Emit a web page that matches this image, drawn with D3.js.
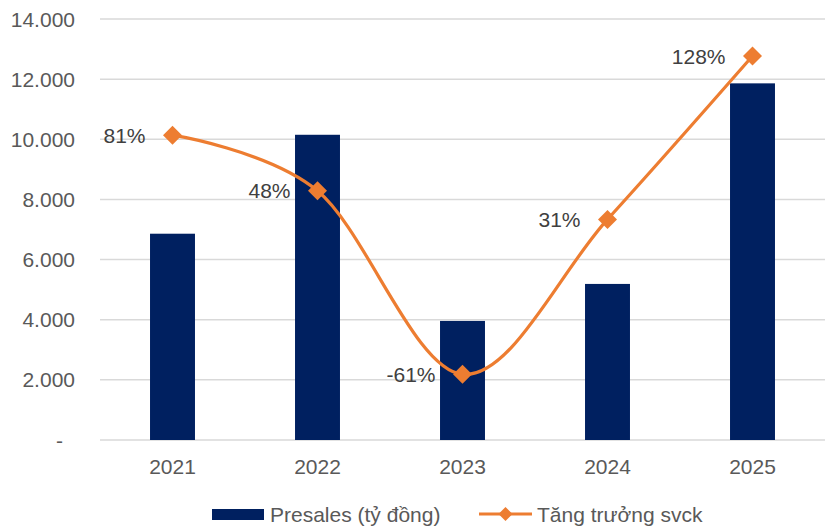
<!DOCTYPE html>
<html><head><meta charset="utf-8">
<script src="https://cdn.jsdelivr.net/npm/d3@7"></script>
<style>body{margin:0;background:#fff}svg{display:block;font-family:"Liberation Sans",Arial,sans-serif}</style>
</head><body><svg id="c" width="825" height="528"></svg>
<script>
const years = ["2021","2022","2023","2024","2025"];
const presales = [6860, 10150, 3960, 5190, 11860];
const growth = [81, 48, -61, 31, 128];
const growthLabels = ["81%","48%","-61%","31%","128%"];
const yTicks = [0,2000,4000,6000,8000,10000,12000,14000];
const legendLabels = ["Presales (tỷ đồng)","Tăng trưởng svck"];

const svg = d3.select("#c");
const navy = "#002060", orange = "#ED7D31";
const FS = 21;
const x = d3.scaleBand().domain(years).range([100,825]).padding(0);
const y = d3.scaleLinear().domain([0,14000]).range([440,19]);
const y2 = d3.scaleLinear().domain([-100,150]).range([440,19]);
const bw = x.bandwidth()*0.31;
const cx = d => x(d)+x.bandwidth()/2;

svg.append("g").selectAll("line").data(yTicks).join("line")
  .attr("x1",100).attr("x2",825).attr("y1",d=>y(d)).attr("y2",d=>y(d))
  .attr("stroke","#d9d9d9").attr("stroke-width",1.5);

const fmt = d => d===0 ? "-" : d3.format(",")(d).replace(/,/g,".");
svg.append("g").selectAll("text").data(yTicks).join("text")
  .attr("x",d=>d===0?63:75).attr("y",d=>y(d)+7.5).attr("text-anchor","end")
  .attr("font-size",FS).attr("fill","#595959").text(fmt);

svg.append("g").selectAll("rect").data(years).join("rect")
  .attr("x",d=>cx(d)-bw/2).attr("width",bw)
  .attr("y",(d,i)=>y(presales[i])).attr("height",(d,i)=>y(0)-y(presales[i]))
  .attr("fill",navy);

svg.append("g").selectAll("text").data(years).join("text")
  .attr("x",d=>cx(d)).attr("y",474).attr("text-anchor","middle")
  .attr("font-size",FS).attr("fill","#595959").text(d=>d);

const pts = years.map((d,i)=>[cx(d), y2(growth[i])]);
svg.append("path").attr("d", d3.line().curve(d3.curveCatmullRom.alpha(0))(pts))
  .attr("fill","none").attr("stroke",orange).attr("stroke-width",3.2);
const diamond = (px,py,r) => `M${px},${py-r}L${px+r},${py}L${px},${py+r}L${px-r},${py}Z`;
svg.append("g").selectAll("path").data(pts).join("path")
  .attr("d",p=>diamond(p[0],p[1],9.5)).attr("fill",orange);

svg.append("g").selectAll("text").data(pts).join("text")
  .attr("x",p=>p[0]-27).attr("y",p=>p[1]+7.5).attr("text-anchor","end")
  .attr("font-size",FS).attr("fill","#404040").text((p,i)=>growthLabels[i]);

const lg = svg.append("g");
lg.append("rect").attr("x",212).attr("y",509).attr("width",52).attr("height",11).attr("fill",navy);
lg.append("text").attr("x",270).attr("y",522).attr("font-size",FS).attr("fill","#595959").text(legendLabels[0]);
lg.append("line").attr("x1",479).attr("x2",532).attr("y1",514).attr("y2",514).attr("stroke",orange).attr("stroke-width",3.2);
lg.append("path").attr("d",diamond(505.5,514,7)).attr("fill",orange);
lg.append("text").attr("x",537).attr("y",522).attr("font-size",FS).attr("fill","#595959").text(legendLabels[1]);
</script></body></html>
